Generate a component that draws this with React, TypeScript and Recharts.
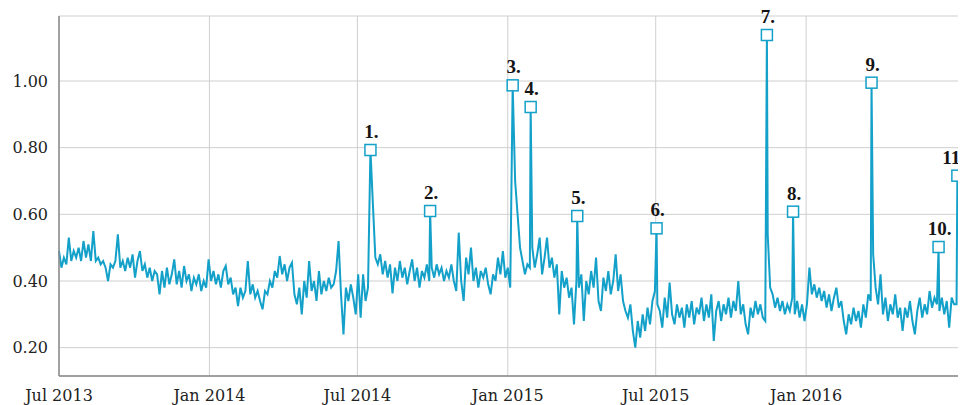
import React from "react";
import { LineChart, Line, XAxis, YAxis, CartesianGrid } from "recharts";

// Base series: one value every 3 days starting Jul 1 2013 (day 0)
const baseStepDays = 3;
const baseValues: number[] = [
  // Jul 2013 (day 0..30)
  0.49, 0.44, 0.47, 0.45, 0.53, 0.46, 0.49, 0.47, 0.50, 0.46, 0.52,
  // Aug 2013 (33..60)
  0.47, 0.51, 0.46, 0.55, 0.46, 0.47, 0.45, 0.46, 0.44, 0.40,
  // Sep 2013 (63..90)
  0.45, 0.44, 0.46, 0.54, 0.44, 0.46, 0.43, 0.47, 0.44, 0.48,
  // Oct 2013 (93..120)
  0.41, 0.46, 0.49, 0.43, 0.45, 0.41, 0.44, 0.40, 0.43, 0.42,
  // Nov 2013 (123..150)
  0.36, 0.43, 0.38, 0.44, 0.39, 0.42, 0.465, 0.39, 0.43, 0.38,
  // Dec 2013 (153..183)
  0.445, 0.40, 0.42, 0.37, 0.41, 0.39, 0.42, 0.37, 0.40, 0.38, 0.465,
  // Jan 2014 (186..213)
  0.40, 0.43, 0.39, 0.42, 0.38, 0.43, 0.445, 0.39, 0.41, 0.36,
  // Feb 2014 (216..240)
  0.38, 0.325, 0.38, 0.35, 0.37, 0.46, 0.36, 0.39, 0.35,
  // Mar 2014 (243..273)
  0.37, 0.34, 0.315, 0.37, 0.36, 0.40, 0.38, 0.43, 0.41, 0.475, 0.42,
  // Apr 2014 (276..303)
  0.45, 0.40, 0.44, 0.455, 0.36, 0.33, 0.38, 0.30, 0.40, 0.35,
  // May 2014 (306..333)
  0.46, 0.37, 0.40, 0.34, 0.43, 0.36, 0.40, 0.37, 0.41, 0.38,
  // Jun 2014 (336..363)
  0.39, 0.43, 0.52, 0.36, 0.24, 0.38, 0.34, 0.39, 0.35, 0.30,
  // Jul 2014 (366..393)
  0.42, 0.29, 0.42, 0.34, 0.38, 0.40, 0.63, 0.47, 0.45, 0.48,
  // Aug 2014 (396..426)
  0.42, 0.46, 0.41, 0.45, 0.363, 0.44, 0.40, 0.46, 0.41, 0.44, 0.39,
  // Sep 2014 (429..456)
  0.43, 0.465, 0.40, 0.44, 0.38, 0.43, 0.41, 0.45, 0.40, 0.44,
  // Oct 2014 (459..486)
  0.41, 0.45, 0.42, 0.44, 0.40, 0.43, 0.41, 0.45, 0.40, 0.37,
  // Nov 2014 (489..516)
  0.545, 0.40, 0.34, 0.47, 0.42, 0.50, 0.40, 0.44, 0.38, 0.43,
  // Dec 2014 (519..546)
  0.41, 0.44, 0.39, 0.36, 0.42, 0.40, 0.47, 0.42, 0.49, 0.41,
  // Jan 2015 (549..579)
  0.44, 0.38, 0.45, 0.70, 0.60, 0.50, 0.46, 0.42, 0.45, 0.44, 0.50,
  // Feb 2015 (582..606)
  0.44, 0.48, 0.53, 0.42, 0.47, 0.53, 0.44, 0.47, 0.41,
  // Mar 2015 (609..636)
  0.45, 0.30, 0.43, 0.38, 0.41, 0.35, 0.38, 0.27, 0.40, 0.38,
  // Apr 2015 (639..666)
  0.42, 0.28, 0.40, 0.36, 0.43, 0.38, 0.47, 0.34, 0.31, 0.41,
  // May 2015 (669..699)
  0.37, 0.43, 0.36, 0.40, 0.48, 0.37, 0.42, 0.34, 0.31, 0.29, 0.33,
  // Jun 2015 (702..729)
  0.25, 0.20, 0.28, 0.23, 0.30, 0.25, 0.32, 0.27, 0.34, 0.37,
  // Jul 2015 (732..759)
  0.33, 0.31, 0.26, 0.35, 0.29, 0.395, 0.30, 0.27, 0.33, 0.29,
  // Aug 2015 (762..789)
  0.32, 0.26, 0.33, 0.29, 0.34, 0.27, 0.32, 0.30, 0.35, 0.28,
  // Sep 2015 (792..819)
  0.33, 0.29, 0.36, 0.22, 0.31, 0.34, 0.28, 0.33, 0.30, 0.35,
  // Oct 2015 (822..852)
  0.29, 0.34, 0.31, 0.40, 0.30, 0.33, 0.27, 0.24, 0.32, 0.29, 0.34,
  // Nov 2015 (855..882)
  0.30, 0.33, 0.29, 0.28, 0.54, 0.38, 0.36, 0.32, 0.35, 0.31,
  // Dec 2015 (885..912)
  0.34, 0.30, 0.33, 0.31, 0.35, 0.30, 0.34, 0.29, 0.33, 0.28,
  // Jan 2016 (915..942)
  0.33, 0.44, 0.36, 0.39, 0.35, 0.38, 0.34, 0.37, 0.32, 0.36,
  // Feb 2016 (945..972)
  0.31, 0.35, 0.38, 0.32, 0.34, 0.28, 0.24, 0.30, 0.27, 0.32,
  // Mar 2016 (975..1002)
  0.28, 0.31, 0.26, 0.33, 0.29, 0.36, 0.34, 0.48, 0.38, 0.33,
  // Apr 2016 (1005..1032)
  0.42, 0.30, 0.35, 0.28, 0.33, 0.30, 0.36, 0.29, 0.32, 0.25,
  // May 2016 (1035..1065)
  0.32, 0.29, 0.34, 0.28, 0.24, 0.31, 0.35, 0.29, 0.33, 0.30, 0.37,
  // Jun 2016 (1068..1095)
  0.32, 0.35, 0.33, 0.31, 0.35, 0.30, 0.34, 0.26, 0.35, 0.33,
  // Jul 2016 (1098..1101)
  0.33, 0.60,
];

// Annotated spikes
const spikeDays = [381, 454, 555, 577, 634, 731, 866, 898, 994, 1076, 1099];
const spikeValues = [0.793, 0.61, 0.987, 0.922, 0.595, 0.558, 1.138, 0.608, 0.995, 0.502, 0.716];
const spikeLabels = ["1.", "2.", "3.", "4.", "5.", "6.", "7.", "8.", "9.", "10.", "11."];

// Axis ticks
const xTickDays = [0, 184, 365, 549, 730, 914];
const xTickLabels = ["Jul 2013", "Jan 2014", "Jul 2014", "Jan 2015", "Jul 2015", "Jan 2016"];
const yTicks = [0.2, 0.4, 0.6, 0.8, 1.0];

type Pt = { day: number; v: number; label?: string };

const buildData = (): Pt[] => {
  const map = new Map<number, Pt>();
  baseValues.forEach((v, i) => {
    const d = i * baseStepDays;
    map.set(d, { day: d, v });
  });
  spikeDays.forEach((d, i) => {
    map.set(d, { day: d, v: spikeValues[i], label: spikeLabels[i] });
  });
  return Array.from(map.values()).sort((a, b) => a.day - b.day);
};

const data = buildData();
const LINE_COLOR = "#13a0c9";
const CHART_W = 966;

const SpikeDot = (props: any) => {
  const { cx, cy, payload, index } = props;
  if (!payload || !payload.label || cx == null || cy == null) {
    return <g key={`d${index}`} />;
  }
  const nearEdge = cx + 14 > CHART_W - 2;
  return (
    <g key={`d${index}`}>
      <rect
        x={cx - 5.5}
        y={cy - 5.5}
        width={11}
        height={11}
        fill="#ffffff"
        stroke={LINE_COLOR}
        strokeWidth={1.5}
      />
      <text
        x={nearEdge ? CHART_W - 1 : cx + 1}
        y={cy - 12}
        textAnchor={nearEdge ? "end" : "middle"}
        fontFamily="'Liberation Serif', serif"
        fontWeight="bold"
        fontSize={19}
        fill="#141414"
      >
        {payload.label}
      </text>
    </g>
  );
};

export default function App() {
  return (
    <div style={{ margin: "-8px 0 0 -8px", width: CHART_W, height: 405 }}>
      <LineChart
        width={CHART_W}
        height={405}
        data={data}
        margin={{ top: 16, right: 7, bottom: 2, left: 8 }}
      >
        <CartesianGrid stroke="#cfcfcf" strokeWidth={1} />
        <XAxis
          dataKey="day"
          type="number"
          domain={[0, 1101]}
          ticks={xTickDays}
          interval={0}
          tickFormatter={(d: number) => xTickLabels[xTickDays.indexOf(d)] ?? ""}
          tickLine={false}
          tickMargin={8}
          height={27}
          axisLine={{ stroke: "#8a8a8a", strokeWidth: 1.5 }}
          tick={{ fontFamily: "'DejaVu Serif', serif", fontSize: 16, fill: "#222" }}
        />
        <YAxis
          type="number"
          domain={[0.115, 1.195]}
          ticks={yTicks}
          interval={0}
          tickFormatter={(v: number) => v.toFixed(2)}
          tickLine={false}
          tickMargin={5}
          width={51}
          axisLine={{ stroke: "#8a8a8a", strokeWidth: 1.5 }}
          tick={{ fontFamily: "'DejaVu Serif', serif", fontSize: 16, fill: "#222" }}
        />
        <Line
          dataKey="v"
          type="linear"
          stroke={LINE_COLOR}
          strokeWidth={2}
          dot={SpikeDot}
          activeDot={false}
          isAnimationActive={false}
        />
      </LineChart>
    </div>
  );
}
